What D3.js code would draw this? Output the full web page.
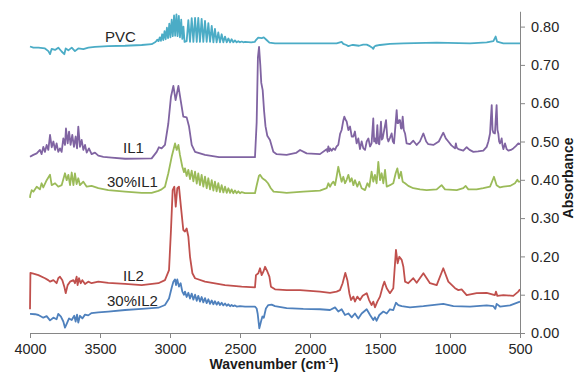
<!DOCTYPE html>
<html>
<head>
<meta charset="utf-8">
<script src="https://cdn.jsdelivr.net/npm/d3@7/dist/d3.min.js"></script>
<style>
  body { margin: 0; background: #fff; }
  svg { display: block; font-family: "Liberation Sans", Arial, sans-serif; }
</style>
</head>
<body>
<div id="chart"></div>
<script>
// wavenumber (cm-1), absorbance
const pvc = [
  [4000,0.748],[3976,0.745],[3940,0.745],[3893,0.743],[3869,0.736],[3857,0.728],[3845,0.742],[3821,0.739],
  [3798,0.745],[3774,0.735],[3755,0.728],[3745,0.743],[3726,0.738],[3702,0.745],[3679,0.736],[3655,0.743],
  [3619,0.741],[3583,0.745],[3536,0.747],[3441,0.749],[3321,0.750],[3202,0.752],[3131,0.754],[3107,0.759],
  [3098,0.762],[3090,0.766],[3082,0.762],[3073,0.772],[3065,0.763],[3056,0.780],[3048,0.765],[3039,0.788],
  [3031,0.767],[3022,0.797],[3014,0.770],[3005,0.808],[2997,0.772],[2988,0.818],[2980,0.775],[2971,0.829],
  [2963,0.776],[2954,0.832],[2946,0.775],[2937,0.828],[2929,0.772],[2920,0.818],[2912,0.768],[2904,0.800],
  [2896,0.760],[2881,0.762],[2869,0.817],[2857,0.760],[2845,0.822],[2833,0.760],[2821,0.823],[2809,0.760],
  [2798,0.823],[2786,0.760],[2774,0.820],[2762,0.760],[2750,0.815],[2738,0.760],[2726,0.809],[2714,0.760],
  [2702,0.802],[2690,0.759],[2679,0.794],[2667,0.759],[2655,0.785],[2643,0.759],[2631,0.780],[2619,0.759],
  [2607,0.774],[2595,0.759],[2583,0.769],[2571,0.759],[2560,0.767],[2548,0.759],[2536,0.764],[2524,0.759],
  [2512,0.762],[2500,0.759],[2488,0.761],[2476,0.759],[2464,0.760],[2420,0.759],[2395,0.760],[2386,0.765],
  [2370,0.771],[2345,0.770],[2330,0.772],[2310,0.765],[2290,0.758],[2250,0.756],[2048,0.756],[1810,0.756],
  [1774,0.760],[1762,0.755],[1740,0.752],[1726,0.749],[1700,0.752],[1690,0.752],[1650,0.750],[1620,0.753],
  [1595,0.753],[1572,0.749],[1555,0.745],[1548,0.742],[1540,0.748],[1530,0.750],[1500,0.752],[1429,0.755],
  [1333,0.756],[1095,0.758],[857,0.756],[738,0.759],[690,0.762],[674,0.774],[664,0.761],[619,0.756],[500,0.756]
];

const il1 = [
  [4000,0.460],[3976,0.465],[3952,0.469],[3929,0.478],[3917,0.467],[3905,0.486],[3893,0.473],[3881,0.491],
  [3869,0.478],[3857,0.517],[3845,0.485],[3833,0.500],[3821,0.478],[3810,0.495],[3798,0.473],[3786,0.482],
  [3774,0.473],[3762,0.508],[3750,0.491],[3743,0.534],[3731,0.495],[3721,0.526],[3710,0.491],[3698,0.517],
  [3686,0.486],[3674,0.513],[3664,0.482],[3655,0.539],[3643,0.486],[3631,0.504],[3619,0.478],[3607,0.491],
  [3595,0.471],[3579,0.482],[3560,0.467],[3536,0.471],[3512,0.463],[3476,0.460],[3417,0.458],[3321,0.455],
  [3131,0.456],[3095,0.473],[3079,0.485],[3060,0.482],[3036,0.491],[3012,0.547],[2993,0.617],[2976,0.645],
  [2960,0.608],[2940,0.645],[2924,0.608],[2905,0.565],[2881,0.563],[2864,0.539],[2845,0.491],[2821,0.473],
  [2750,0.465],[2650,0.459],[2393,0.459],[2381,0.550],[2372,0.720],[2364,0.747],[2355,0.700],[2348,0.653],
  [2338,0.634],[2328,0.580],[2318,0.540],[2305,0.515],[2286,0.504],[2262,0.473],[2238,0.467],[2167,0.465],
  [2100,0.470],[2071,0.478],[2024,0.469],[1929,0.467],[1881,0.480],[1875,0.473],[1869,0.487],[1862,0.475],
  [1857,0.482],[1845,0.476],[1833,0.482],[1821,0.478],[1810,0.487],[1798,0.491],[1785,0.520],[1774,0.530],
  [1762,0.555],[1755,0.565],[1745,0.556],[1738,0.552],[1726,0.530],[1714,0.539],[1702,0.513],[1690,0.513],
  [1679,0.526],[1667,0.495],[1655,0.508],[1643,0.480],[1631,0.500],[1619,0.482],[1607,0.478],[1595,0.500],
  [1583,0.508],[1571,0.487],[1560,0.495],[1548,0.560],[1542,0.500],[1536,0.508],[1527,0.495],[1519,0.543],
  [1512,0.495],[1505,0.493],[1499,0.520],[1493,0.552],[1487,0.505],[1481,0.508],[1470,0.530],[1457,0.556],
  [1448,0.510],[1440,0.500],[1428,0.510],[1417,0.521],[1408,0.500],[1400,0.495],[1390,0.540],[1381,0.582],
  [1375,0.548],[1369,0.548],[1363,0.556],[1357,0.556],[1350,0.534],[1345,0.534],[1338,0.565],[1330,0.530],
  [1321,0.521],[1310,0.495],[1286,0.493],[1262,0.502],[1238,0.491],[1215,0.500],[1190,0.521],[1170,0.500],
  [1155,0.493],[1119,0.491],[1080,0.500],[1048,0.523],[1030,0.508],[1012,0.500],[990,0.490],[964,0.482],
  [958,0.495],[952,0.484],[940,0.480],[905,0.476],[881,0.485],[860,0.478],[833,0.473],[800,0.474],
  [762,0.476],[738,0.486],[726,0.500],[714,0.521],[708,0.560],[702,0.595],[696,0.530],[690,0.523],
  [679,0.521],[673,0.560],[667,0.595],[661,0.530],[655,0.521],[649,0.500],[643,0.495],[637,0.500],
  [631,0.508],[625,0.490],[619,0.480],[607,0.495],[595,0.480],[583,0.476],[560,0.479],[548,0.482],
  [530,0.488],[512,0.495],[500,0.493]
];

const il1Blend = [
  [4000,0.353],[3998,0.360],[3988,0.373],[3976,0.369],[3952,0.382],[3929,0.375],[3917,0.391],[3905,0.380],
  [3881,0.399],[3857,0.413],[3845,0.386],[3821,0.391],[3798,0.382],[3774,0.386],[3750,0.417],[3738,0.399],
  [3726,0.413],[3714,0.386],[3702,0.419],[3690,0.386],[3679,0.417],[3667,0.389],[3655,0.404],[3643,0.386],
  [3619,0.395],[3595,0.382],[3560,0.384],[3512,0.378],[3441,0.373],[3321,0.369],[3202,0.366],[3131,0.366],
  [3083,0.371],[3060,0.375],[3036,0.382],[3012,0.417],[2988,0.460],[2964,0.495],[2952,0.478],[2940,0.491],
  [2929,0.465],[2912,0.434],[2900,0.420],[2893,0.430],[2881,0.410],[2869,0.426],[2857,0.402],[2845,0.424],
  [2833,0.396],[2821,0.421],[2809,0.390],[2798,0.417],[2786,0.386],[2774,0.413],[2762,0.382],[2750,0.408],
  [2738,0.378],[2726,0.404],[2714,0.375],[2702,0.399],[2690,0.372],[2679,0.395],[2667,0.370],[2655,0.391],
  [2643,0.368],[2631,0.386],[2619,0.367],[2607,0.382],[2595,0.366],[2583,0.378],[2571,0.366],[2560,0.375],
  [2548,0.365],[2536,0.372],[2524,0.365],[2512,0.370],[2500,0.365],[2488,0.368],[2464,0.365],[2393,0.365],
  [2381,0.385],[2365,0.410],[2357,0.413],[2340,0.404],[2320,0.399],[2300,0.391],[2280,0.378],[2260,0.369],
  [2200,0.367],[2167,0.366],[2048,0.369],[1929,0.372],[1881,0.378],[1869,0.391],[1857,0.382],[1845,0.390],
  [1833,0.395],[1821,0.386],[1810,0.408],[1798,0.434],[1786,0.413],[1774,0.395],[1762,0.408],[1750,0.391],
  [1738,0.400],[1726,0.413],[1714,0.395],[1702,0.404],[1690,0.386],[1679,0.399],[1662,0.382],[1648,0.395],
  [1631,0.378],[1607,0.373],[1590,0.391],[1576,0.382],[1560,0.421],[1548,0.395],[1536,0.413],[1524,0.391],
  [1512,0.447],[1500,0.399],[1488,0.417],[1476,0.391],[1464,0.426],[1452,0.382],[1429,0.386],[1405,0.391],
  [1388,0.417],[1376,0.430],[1364,0.404],[1350,0.421],[1338,0.395],[1321,0.391],[1298,0.384],[1262,0.378],
  [1214,0.375],[1167,0.373],[1095,0.375],[1060,0.386],[1036,0.375],[952,0.373],[905,0.378],[888,0.384],
  [869,0.375],[810,0.375],[762,0.378],[714,0.382],[700,0.395],[686,0.408],[667,0.386],[643,0.380],
  [619,0.382],[571,0.384],[536,0.391],[519,0.400],[510,0.395],[500,0.395]
];

const il2 = [
  [4000,0.062],[3997,0.157],[3976,0.155],[3940,0.151],[3893,0.143],[3870,0.138],[3857,0.134],[3833,0.138],
  [3810,0.130],[3798,0.143],[3786,0.147],[3769,0.138],[3755,0.121],[3745,0.104],[3731,0.125],[3714,0.134],
  [3690,0.138],[3679,0.130],[3667,0.147],[3660,0.125],[3650,0.143],[3638,0.130],[3626,0.138],[3607,0.128],
  [3584,0.134],[3560,0.130],[3512,0.134],[3441,0.131],[3321,0.128],[3202,0.125],[3083,0.130],[3036,0.138],
  [3007,0.164],[2993,0.269],[2981,0.373],[2969,0.382],[2959,0.330],[2948,0.378],[2936,0.382],[2922,0.330],
  [2905,0.269],[2893,0.265],[2881,0.273],[2869,0.252],[2857,0.199],[2840,0.156],[2821,0.143],[2750,0.134],
  [2607,0.125],[2488,0.121],[2393,0.119],[2386,0.151],[2369,0.156],[2357,0.169],[2345,0.151],[2333,0.160],
  [2321,0.173],[2304,0.160],[2290,0.147],[2279,0.121],[2250,0.114],[2167,0.112],[2071,0.112],[2000,0.110],
  [1929,0.108],[1857,0.105],[1810,0.108],[1786,0.112],[1767,0.130],[1748,0.157],[1733,0.138],[1719,0.104],
  [1707,0.086],[1690,0.095],[1679,0.082],[1662,0.095],[1643,0.086],[1624,0.097],[1595,0.104],[1578,0.086],
  [1560,0.073],[1548,0.082],[1536,0.067],[1519,0.082],[1500,0.095],[1481,0.121],[1469,0.134],[1452,0.117],
  [1429,0.104],[1405,0.117],[1386,0.217],[1374,0.182],[1362,0.199],[1345,0.191],[1333,0.173],[1321,0.134],
  [1298,0.130],[1262,0.143],[1238,0.131],[1190,0.156],[1143,0.130],[1095,0.125],[1048,0.169],[1012,0.134],
  [964,0.117],[940,0.112],[917,0.114],[881,0.099],[810,0.104],[738,0.105],[679,0.099],[672,0.108],
  [662,0.097],[619,0.099],[548,0.097],[512,0.108],[500,0.114]
];

const il2Blend = [
  [4000,0.050],[3964,0.049],[3940,0.047],[3905,0.040],[3881,0.044],[3857,0.033],[3833,0.040],[3810,0.036],
  [3798,0.050],[3779,0.043],[3762,0.030],[3750,0.014],[3738,0.024],[3721,0.038],[3702,0.034],[3684,0.045],
  [3674,0.030],[3664,0.048],[3655,0.027],[3643,0.045],[3626,0.038],[3607,0.048],[3584,0.046],[3560,0.052],
  [3512,0.054],[3441,0.056],[3321,0.060],[3202,0.063],[3083,0.066],[3036,0.073],[3007,0.090],[2988,0.118],
  [2976,0.134],[2964,0.140],[2957,0.125],[2948,0.140],[2936,0.121],[2924,0.130],[2912,0.108],[2900,0.100],
  [2893,0.108],[2881,0.094],[2869,0.105],[2857,0.090],[2845,0.103],[2833,0.087],[2821,0.100],[2809,0.084],
  [2798,0.097],[2786,0.082],[2774,0.094],[2762,0.080],[2750,0.091],[2738,0.078],[2726,0.088],[2714,0.076],
  [2702,0.085],[2690,0.075],[2679,0.083],[2667,0.074],[2655,0.081],[2643,0.073],[2631,0.079],[2619,0.072],
  [2607,0.077],[2595,0.071],[2583,0.075],[2571,0.070],[2560,0.073],[2548,0.070],[2536,0.072],[2524,0.069],
  [2500,0.070],[2464,0.069],[2393,0.069],[2381,0.064],[2374,0.051],[2362,0.012],[2350,0.030],[2340,0.043],
  [2330,0.040],[2315,0.064],[2298,0.073],[2274,0.074],[2250,0.070],[2167,0.065],[2048,0.063],[1929,0.062],
  [1857,0.060],[1821,0.067],[1798,0.056],[1774,0.062],[1750,0.047],[1726,0.051],[1702,0.041],[1679,0.051],
  [1655,0.038],[1631,0.051],[1595,0.062],[1571,0.047],[1548,0.034],[1536,0.041],[1524,0.032],[1505,0.047],
  [1476,0.056],[1452,0.051],[1429,0.062],[1405,0.060],[1386,0.079],[1369,0.073],[1345,0.070],[1286,0.067],
  [1190,0.070],[1048,0.076],[976,0.070],[857,0.069],[738,0.072],[690,0.070],[676,0.063],[667,0.076],
  [643,0.069],[571,0.072],[500,0.082]
];

const seriesNames = ['PVC', 'IL1', '30%IL1', 'IL2', '30%IL2'];
const xTicks = [4000, 3500, 3000, 2500, 2000, 1500, 1000, 500];
const yTicks = [0, 0.1, 0.2, 0.3, 0.4, 0.5, 0.6, 0.7, 0.8];

const width = 578, height = 376;
const margin = { top: 11, right: 58, bottom: 43, left: 30 };

const svg = d3.select('#chart').append('svg')
  .attr('width', width).attr('height', height);

const x = d3.scaleLinear()
  .domain([4000, 500])
  .range([margin.left, width - margin.right]);

const y = d3.scaleLinear()
  .domain([0, 0.84])
  .range([height - margin.bottom, height - margin.bottom - 0.84 * 383]);

const xAxis = g => g
  .attr('transform', `translate(0,${height - margin.bottom})`)
  .call(d3.axisBottom(x).tickValues(xTicks).tickFormat(d3.format('d')).tickSize(5).tickSizeOuter(0).tickPadding(6))
  .call(g => g.selectAll('.domain, line').attr('stroke', '#868686'))
  .call(g => g.selectAll('text').attr('font-size', 14.5).attr('fill', '#262626')
    .attr('font-family', '"Liberation Sans", Arial, sans-serif'));

const yAxis = g => g
  .attr('transform', `translate(${width - margin.right},0)`)
  .call(d3.axisRight(y).tickValues(yTicks).tickFormat(d3.format('.2f')).tickSize(5).tickSizeOuter(0).tickPadding(6))
  .call(g => g.selectAll('.domain, line').attr('stroke', '#868686'))
  .call(g => g.selectAll('text').attr('font-size', 14.5).attr('fill', '#262626')
    .attr('font-family', '"Liberation Sans", Arial, sans-serif'));

const line = d3.line()
  .x(d => x(d[0]))
  .y(d => y(d[1]));

const series = [
  { name: seriesNames[0], data: pvc, color: '#4BACC6', label: [105, 41.7] },
  { name: seriesNames[1], data: il1, color: '#8064A2', label: [123, 153] },
  { name: seriesNames[2], data: il1Blend, color: '#9BBB59', label: [107, 186.5] },
  { name: seriesNames[3], data: il2, color: '#C0504D', label: [123, 281] },
  { name: seriesNames[4], data: il2Blend, color: '#4F81BD', label: [107, 305.5] }
];

svg.selectAll('path.spectrum')
  .data(series)
  .join('path')
  .attr('class', 'spectrum')
  .attr('fill', 'none')
  .attr('stroke', d => d.color)
  .attr('stroke-width', 1.8)
  .attr('stroke-linejoin', 'round')
  .attr('d', d => line(d.data));

svg.append('g').call(xAxis);
svg.append('g').call(yAxis);

svg.selectAll('text.series-label')
  .data(series)
  .join('text')
  .attr('class', 'series-label')
  .attr('x', d => d.label[0])
  .attr('y', d => d.label[1])
  .attr('font-size', 15)
  .attr('fill', '#262626')
  .text(d => d.name);

// axis titles
const xTitle = svg.append('text')
  .attr('x', 274).attr('y', 369)
  .attr('text-anchor', 'middle')
  .attr('font-size', 14).attr('font-weight', 'bold').attr('fill', '#1a1a1a');
xTitle.append('tspan').text('Wavenumber (cm');
xTitle.append('tspan').attr('font-size', 9).attr('dy', -5).text('-1');
xTitle.append('tspan').attr('dy', 5).text(')');

svg.append('text')
  .attr('transform', 'translate(573,178) rotate(-90)')
  .attr('text-anchor', 'middle')
  .attr('font-size', 14).attr('font-weight', 'bold').attr('fill', '#1a1a1a')
  .text('Absorbance');
</script>
</body>
</html>
